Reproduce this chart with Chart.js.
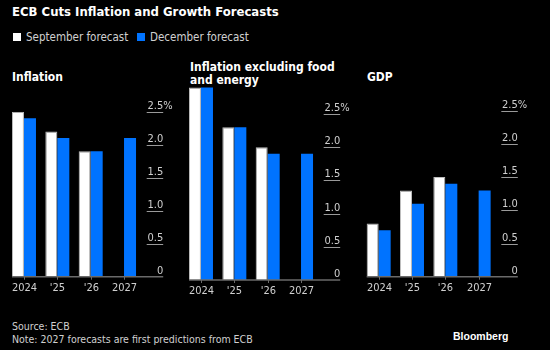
<!DOCTYPE html>
<html>
<head>
<meta charset="utf-8">
<script src="https://cdn.jsdelivr.net/npm/chart.js@4.4.1/dist/chart.umd.min.js"></script>
<style>
  body { margin: 0; background: #000; width: 550px; height: 350px; overflow: hidden; position: relative;
         font-family: "DejaVu Sans Condensed", "Liberation Sans", sans-serif; color: #d0d0d0; }
  .abs { position: absolute; white-space: nowrap; }
  .titulo { left: 12px; top: 4px; font-size: 13px; font-weight: bold; color: #fff; }
  .leyenda { top: 30px; font-size: 11.5px; }
  .cuadro { display: inline-block; width: 8px; height: 8px; margin-right: 5px; vertical-align: -0px; }
  .panel { font-size: 12px; font-weight: bold; color: #fff; line-height: 13px; }
  .pie { left: 12px; font-size: 10.5px; }
  canvas { position: absolute; top: 0; }
</style>
</head>
<body>
<div class="abs titulo">ECB Cuts Inflation and Growth Forecasts</div>
<div class="abs leyenda" style="left:13px"><span class="cuadro" style="background:#fff"></span>September forecast</div>
<div class="abs leyenda" style="left:137px"><span class="cuadro" style="background:#0073ff"></span>December forecast</div>

<div class="abs panel" style="left:12px; top:71px">Inflation</div>
<div class="abs panel" style="left:190px; top:61px">Inflation excluding food<br>and energy</div>
<div class="abs panel" style="left:367px; top:71px">GDP</div>

<div class="abs pie" style="top:320px">Source: ECB</div>
<div class="abs pie" style="top:333px">Note: 2027 forecasts are first predictions from ECB</div>
<div class="abs" style="left:453px; top:330px; font-size:10.5px; font-weight:bold; color:#fff; font-family:'Liberation Sans',sans-serif">Bloomberg</div>

<canvas id="g1" width="180" height="350" style="left:0px"></canvas>
<canvas id="g2" width="180" height="350" style="left:180px"></canvas>
<canvas id="g3" width="193" height="350" style="left:357px"></canvas>

<script>
// Datos
const categorias = ['2024', "'25", "'26", '2027'];
const marcasY = [0, 0.5, 1, 1.5, 2, 2.5];

const inflacionSep = [2.5, 2.2, 1.9, null];
const inflacionDic = [2.4, 2.1, 1.9, 2.1];

const subyacenteSep = [2.9, 2.3, 2.0, null];
const subyacenteDic = [2.9, 2.3, 1.9, 1.9];

const pibSep = [0.8, 1.3, 1.5, null];
const pibDic = [0.7, 1.1, 1.4, 1.3];

const colorSep = '#ffffff';
const colorDic = '#0073ff';
const fuenteEjes = '11px "DejaVu Sans Condensed", "Liberation Sans", sans-serif';

// Ejes estilo Bloomberg: líneas cortas a la derecha con la etiqueta encima
const ejesBloomberg = {
  id: 'ejesBloomberg',
  afterDraw(chart) {
    const ctx = chart.ctx;
    const area = chart.chartArea;
    const x = chart.scales.x;
    const y = chart.scales.y;
    const anchoCat = (area.right - area.left) / categorias.length;
    const inicio = area.left + anchoCat * 0.14;
    const finLinea = area.right + 22.5;
    const base = y.getPixelForValue(0);

    ctx.save();
    // marcas del eje Y
    ctx.font = fuenteEjes;
    ctx.textBaseline = 'alphabetic';
    marcasY.forEach((v, i) => {
      const py = Math.round(y.getPixelForValue(v)) + 0.5;
      if (v !== 0) {
        ctx.strokeStyle = '#9a9a9a';
        ctx.lineWidth = 1;
        ctx.beginPath();
        ctx.moveTo(area.right + 6, py);
        ctx.lineTo(finLinea, py);
        ctx.stroke();
      }
      ctx.fillStyle = '#d0d0d0';
      ctx.textAlign = 'right';
      const txt = v === 0 ? '0' : v.toFixed(1);
      ctx.fillText(txt, finLinea, py - 4);
      if (i === marcasY.length - 1) {
        ctx.textAlign = 'left';
        ctx.fillText('%', finLinea, py - 4);
      }
    });

    // línea base
    ctx.strokeStyle = '#6a6a6a';
    ctx.lineWidth = 1.5;
    ctx.beginPath();
    ctx.moveTo(inicio, base);
    ctx.lineTo(finLinea, base);
    ctx.stroke();

    // marcas y etiquetas del eje X
    ctx.textAlign = 'center';
    ctx.textBaseline = 'middle';
    categorias.forEach((c, i) => {
      const px = Math.round(x.getPixelForValue(i)) + 0.5;
      ctx.strokeStyle = '#6a6a6a';
      ctx.lineWidth = 1;
      ctx.beginPath();
      ctx.moveTo(px, base);
      ctx.lineTo(px, base + 3);
      ctx.stroke();
      ctx.fillStyle = '#d0d0d0';
      ctx.fillText(c, px, base + 11.5);
    });
    ctx.restore();
  }
};

function crearPanel(id, sep, dic, maximo, padding) {
  const ctx = document.getElementById(id).getContext('2d');
  return new Chart(ctx, {
    type: 'bar',
    data: {
      labels: categorias,
      datasets: [
        { label: 'September forecast', data: sep, backgroundColor: colorSep,
          borderColor: '#bdbdbd', borderWidth: 1, borderSkipped: 'bottom' },
        { label: 'December forecast', data: dic, backgroundColor: colorDic,
          borderColor: '#0060d8', borderWidth: 0 }
      ]
    },
    options: {
      responsive: false,
      animation: false,
      layout: { padding: padding },
      datasets: { bar: { categoryPercentage: 0.72, barPercentage: 1, skipNull: false } },
      scales: {
        x: { display: false },
        y: { display: false, min: 0, max: maximo }
      },
      plugins: { legend: { display: false }, tooltip: { enabled: false } }
    },
    plugins: [ejesBloomberg]
  });
}

crearPanel('g1', inflacionSep, inflacionDic, 2.5, { left: 7.3, right: 39.3, top: 111.7, bottom: 73.3 });
crearPanel('g2', subyacenteSep, subyacenteDic, 3.0, { left: 4.3, right: 42.3, top: 80.8, bottom: 70 });
crearPanel('g3', pibSep, pibDic, 2.5, { left: 5, right: 54.7, top: 110.7, bottom: 73.3 });
</script>
</body>
</html>
